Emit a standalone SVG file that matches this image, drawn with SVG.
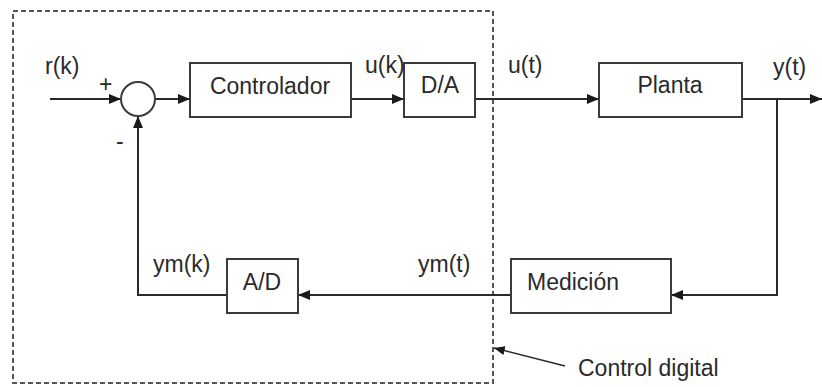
<svg xmlns="http://www.w3.org/2000/svg" width="822" height="387" viewBox="0 0 822 387">
  <style>
    .blk { fill: #fff; stroke: #3a3a3a; stroke-width: 2; }
    .ln { fill: none; stroke: #2a2a2a; stroke-width: 2; }
    .lbl { font-family: "Liberation Sans", Arial, sans-serif; font-size: 23px; fill: #2a2a2a; }
    .mid { text-anchor: middle; }
    .frame { fill: none; stroke: #555; stroke-width: 2; stroke-dasharray: 5 3; }
    .thin { fill: none; stroke: #2a2a2a; stroke-width: 1.5; }
  </style>
  <defs>
    <marker id="arr" viewBox="0 0 12 10" refX="12" refY="5" markerWidth="12" markerHeight="10" markerUnits="userSpaceOnUse" orient="auto">
      <path d="M0,0 L12,5 L0,10 Z" fill="#1a1a1a"/>
    </marker>
    <marker id="arrThin" viewBox="0 0 12 10" refX="12" refY="5" markerWidth="11" markerHeight="9" markerUnits="userSpaceOnUse" orient="auto">
      <path d="M0,0 L12,5 L0,10 Z" fill="#1a1a1a"/>
    </marker>
  </defs>

  <rect width="822" height="387" fill="#fff"/>

  <!-- digital control boundary -->
  <g id="digital-frame">
    <rect class="frame" x="13" y="11" width="480" height="372"/>
    <text class="lbl" x="578" y="376">Control digital</text>
  </g>

  <!-- connectors -->
  <g id="connectors">
    <line class="ln" x1="50" y1="99" x2="121" y2="99" marker-end="url(#arr)"/>
    <line class="ln" x1="155" y1="99" x2="190" y2="99" marker-end="url(#arr)"/>
    <line class="ln" x1="351" y1="99" x2="404" y2="99" marker-end="url(#arr)"/>
    <line class="ln" x1="475" y1="99" x2="599" y2="99" marker-end="url(#arr)"/>
    <line class="ln" x1="742" y1="99" x2="822" y2="99" marker-end="url(#arr)"/>
    <polyline class="ln" points="777,99 777,295 671,295" marker-end="url(#arr)"/>
    <line class="ln" x1="511" y1="295" x2="298" y2="295" marker-end="url(#arr)"/>
    <polyline class="ln" points="227,295 138,295 138,116" marker-end="url(#arr)"/>
    <line class="thin" x1="565" y1="366" x2="494" y2="348" marker-end="url(#arrThin)"/>
  </g>

  <!-- signal labels -->
  <g id="signal-labels">
    <text class="lbl" x="45" y="74">r(k)</text>
    <text class="lbl" x="99" y="92">+</text>
    <text class="lbl" x="116" y="149">-</text>
    <text class="lbl" x="365" y="73">u(k)</text>
    <text class="lbl" x="508" y="73">u(t)</text>
    <text class="lbl" x="773" y="75">y(t)</text>
    <text class="lbl" x="153" y="272">ym(k)</text>
    <text class="lbl" x="418" y="272">ym(t)</text>
  </g>

  <g id="sum">
    <circle class="blk" cx="138" cy="99" r="17"/>
  </g>

  <g id="controlador">
    <rect class="blk" x="190" y="63" width="161" height="54"/>
    <text class="lbl mid" x="270" y="94">Controlador</text>
  </g>

  <g id="da">
    <rect class="blk" x="404" y="63" width="71" height="54"/>
    <text class="lbl mid" x="440" y="93">D/A</text>
  </g>

  <g id="planta">
    <rect class="blk" x="599" y="63" width="143" height="54"/>
    <text class="lbl mid" x="670" y="93">Planta</text>
  </g>

  <g id="medicion">
    <rect class="blk" x="511" y="259" width="160" height="54"/>
    <text class="lbl" x="527" y="290">Medición</text>
  </g>

  <g id="ad">
    <rect class="blk" x="227" y="259" width="71" height="54"/>
    <text class="lbl mid" x="262" y="290">A/D</text>
  </g>
</svg>
